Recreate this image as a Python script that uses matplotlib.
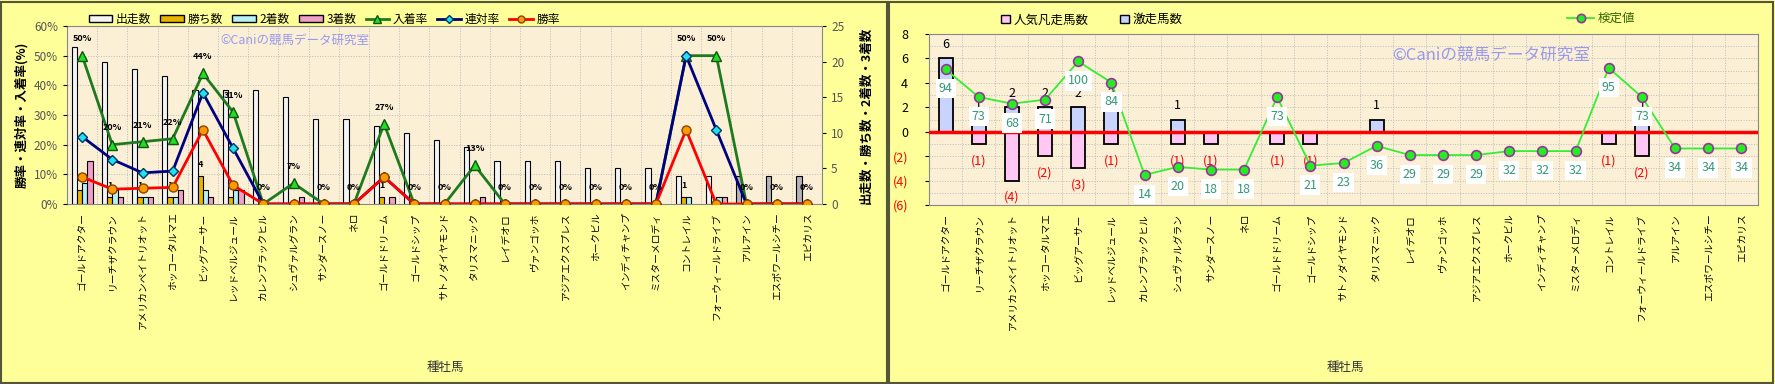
import numpy as np
import matplotlib
matplotlib.use("Agg")
import matplotlib.pyplot as plt
import matplotlib.patches as mpatches
from matplotlib.lines import Line2D

plt.rcParams['font.family'] = ['Noto Sans CJK JP', 'DejaVu Sans']

# ---- data ----
sires = ["ゴールドアクター", "リーチザクラウン", "アメリカンペイトリオット", "ホッコータルマエ",
         "ビッグアーサー", "レッドベルジュール", "カレンブラックヒル", "シュヴァルグラン",
         "サンダースノー", "ネロ", "ゴールドドリーム", "ゴールドシップ", "サトノダイヤモンド",
         "タリスマニック", "レイデオロ", "ヴァンゴッホ", "アジアエクスプレス", "ホークビル",
         "インディチャンプ", "ミスターメロディ", "コントレイル", "フォーウィールドライブ",
         "アルアイン", "エスポワールシチー", "エピカリス"]

starts = [22, 20, 19, 18, 16, 16, 16, 15, 12, 12, 11, 10, 9, 8, 6, 6, 6, 5, 5, 5, 4, 4, 4, 4, 4]
wins = [2, 1, 1, 1, 4, 1, 0, 0, 0, 0, 1, 0, 0, 0, 0, 0, 0, 0, 0, 0, 1, 0, 0, 0, 0]
seconds = [3, 2, 1, 1, 2, 2, 0, 0, 0, 0, 0, 0, 0, 0, 0, 0, 0, 0, 0, 0, 1, 1, 0, 0, 0]
thirds = [6, 1, 1, 2, 1, 2, 0, 1, 0, 0, 1, 0, 0, 1, 0, 0, 0, 0, 0, 0, 0, 1, 0, 0, 0]

place_rate = [50, 20, 21, 22, 44, 31, 0, 7, 0, 0, 27, 0, 0, 13, 0, 0, 0, 0, 0, 0, 50, 50, 0, 0, 0]
rentai_rate = [22.7, 15, 10.5, 11.1, 37.5, 18.8, 0, 0, 0, 0, 9.1, 0, 0, 0, 0, 0, 0, 0, 0, 0, 50, 25, 0, 0, 0]
win_rate = [9.1, 5, 5.3, 5.6, 25, 6.3, 0, 0, 0, 0, 9.1, 0, 0, 0, 0, 0, 0, 0, 0, 0, 25, 0, 0, 0, 0]

gekiso = [6, 1, 2, 2, 2, 2, 0, 1, 0, 0, 0, 0, 0, 1, 0, 0, 0, 0, 0, 0, 0, 1, 0, 0, 0]
bonso = [0, 1, 4, 2, 3, 1, 0, 1, 1, 0, 1, 1, 0, 0, 0, 0, 0, 0, 0, 0, 1, 2, 0, 0, 0]
kentei = [94, 73, 68, 71, 100, 84, 14, 20, 18, 18, 73, 21, 23, 36, 29, 29, 29, 32, 32, 32, 95, 73, 34, 34, 34]

W, H = 1775, 384
fig = plt.figure(figsize=(W / 100, H / 100), dpi=100)
fig.patch.set_facecolor('#FFFF99')

# panel borders
for x0, x1 in [(1, 887), (889, 1773)]:
    fig.patches.append(mpatches.Rectangle((x0 / W, 1 / H), (x1 - x0) / W, (H - 3) / H,
                                          transform=fig.transFigure, fill=False,
                                          edgecolor='#55553a', lw=1.5))

x = np.arange(len(sires))
plot_bg = '#FBF0D6'

# ================= left chart =================
ax1 = fig.add_axes([67 / W, 1 - 204 / H, 755 / W, 178 / H])
ax1.set_facecolor(plot_bg)
ax1.set_xlim(-0.5, len(sires) - 0.5)
ax1.set_ylim(0, 25)
for k in range(1, 6):
    ax1.axhline(k * 25 / 6, color='#bbbbbb', lw=0.7, ls=':', zorder=0)
for k in range(len(sires) - 1):
    ax1.axvline(k + 0.5, color='#bbbbbb', lw=0.7, ls=':', zorder=0)

bw = 0.175
start_colors = ['#F4F4F4'] * 22 + ['#B4B4B4'] * 3
ax1.bar(x - 1.5 * bw, starts, bw, color=start_colors, edgecolor='black', lw=0.8, zorder=2)
for vals, col, off in [(wins, '#E8B400', -0.5), (seconds, '#B8F0F8', 0.5), (thirds, '#F0A0C8', 1.5)]:
    v = np.array(vals)
    m = v > 0
    ax1.bar(x[m] + off * bw, v[m], bw, color=col, edgecolor='black', lw=0.8, zorder=2)
for i, v in enumerate(wins):
    if v > 0:
        ax1.annotate(str(v), (i - 0.5 * bw, v), xytext=(0, 8), textcoords='offset points',
                     ha='center', va='center', fontsize=6.5, fontweight='bold', zorder=3)

ax1.set_xticks(x)
ax1.set_xticklabels(sires, rotation=90, fontsize=7)
ax1.tick_params(axis='x', length=0, pad=6)
for s in ax1.spines.values():
    s.set_color('#888888')

ax1b = ax1.twinx()
# twinx moves the host ticks to the left, so set sides afterwards
ax1.yaxis.tick_right()
ax1.set_yticks(range(0, 26, 5))
ax1.tick_params(axis='y', labelsize=8.5, labelcolor='#555555', length=3)
ax1b.yaxis.tick_left()
ax1b.set_ylim(0, 60)
ax1b.set_yticks(range(0, 61, 10))
ax1b.set_yticklabels([f'{t}%' for t in range(0, 61, 10)])
ax1b.tick_params(axis='y', labelsize=8.5, labelcolor='#555555', length=3)
ax1b.plot(x, place_rate, color='#1E7A1E', lw=2, marker='^', ms=7, mfc='#22DD22', mec='#115511', zorder=3)
ax1b.plot(x, rentai_rate, color='#000080', lw=2, marker='D', ms=5, mfc='#22E0F0', mec='#003366', zorder=4)
ax1b.plot(x, win_rate, color='#FF0000', lw=2, marker='o', ms=6.5, mfc='#FF9900', mec='#884400', zorder=5)
for i, v in enumerate(place_rate):
    ax1b.annotate(f'{v}%', (i, v), xytext=(0, 12), textcoords='offset points',
                  ha='center', va='center', fontsize=6.5, fontweight='bold', zorder=6)
for s in ax1b.spines.values():
    s.set_visible(False)

fig.text(22 / W, 1 - 115 / H, '勝率・連対率・入着率(%)', rotation=90, ha='center', va='center',
         fontsize=9, fontweight='bold')
fig.text(866 / W, 1 - 115 / H, '出走数・勝ち数・2着数・3着数', rotation=90, ha='center', va='center',
         fontsize=9, fontweight='bold')
fig.text(445 / W, 1 - 368 / H, '種牡馬', ha='center', va='center', fontsize=9, color='#333333')
fig.text(295 / W, 1 - 40 / H, '©Caniの競馬データ研究室', ha='center', va='center',
         fontsize=9, color='#9999EE', zorder=10)

h_left = [mpatches.Patch(fc='#F4F4F4', ec='black'),
          mpatches.Patch(fc='#E8B400', ec='black'),
          mpatches.Patch(fc='#B8F0F8', ec='black'),
          mpatches.Patch(fc='#F0A0C8', ec='black'),
          Line2D([], [], color='#1E7A1E', lw=2, marker='^', ms=6, mfc='#22DD22', mec='#115511'),
          Line2D([], [], color='#000080', lw=2, marker='D', ms=4, mfc='#22E0F0', mec='#003366'),
          Line2D([], [], color='#FF0000', lw=2, marker='o', ms=5, mfc='#FF9900', mec='#884400')]
fig.legend(h_left, ['出走数', '勝ち数', '2着数', '3着数', '入着率', '連対率', '勝率'],
           loc='upper left', bbox_to_anchor=(78 / W, 1 - 2 / H), ncol=7, frameon=False,
           fontsize=8.5, handlelength=2.0, handleheight=0.5, columnspacing=0.8, handletextpad=0.3)

# ================= right chart =================
ax2 = fig.add_axes([929 / W, 1 - 205 / H, 829 / W, 171 / H])
ax2.set_facecolor(plot_bg)
ax2.set_xlim(-0.5, len(sires) - 0.5)
ax2.set_ylim(-6, 8)
for k in range(-5, 8):
    if k != 0:
        ax2.axhline(k, color='#bbbbbb', lw=0.7, ls=':', zorder=0)
for k in range(len(sires) - 1):
    ax2.axvline(k + 0.5, color='#bbbbbb', lw=0.7, ls=':', zorder=0)

g = np.array(gekiso)
b = np.array(bonso)
ax2.bar(x[g > 0], g[g > 0], 0.42, color='#C8D4FF', edgecolor='black', lw=1.3, zorder=2)
ax2.bar(x[b > 0], -b[b > 0], 0.42, color='#FFC8F4', edgecolor='black', lw=1.3, zorder=2)
ax2.axhline(0, color='#FF0000', lw=2.5, zorder=3)
for i in range(len(sires)):
    if g[i] > 0:
        ax2.annotate(str(g[i]), (i, g[i]), xytext=(0, 10), textcoords='offset points',
                     ha='center', va='center', fontsize=9, zorder=3)
    if b[i] > 0:
        ax2.annotate(f'({b[i]})', (i, -b[i]), xytext=(0, -12), textcoords='offset points',
                     ha='center', va='center', fontsize=9, color='#FF0000', zorder=3)

ax2.set_yticks(range(-6, 9, 2))
ax2.set_yticklabels(['(6)', '(4)', '(2)', '0', '2', '4', '6', '8'])
for t, v in zip(ax2.get_yticklabels(), range(-6, 9, 2)):
    t.set_color('#FF0000' if v < 0 else 'black')
ax2.tick_params(axis='y', labelsize=9, length=3, pad=12)
ax2.set_xticks(x)
ax2.set_xticklabels(sires, rotation=90, fontsize=7)
ax2.tick_params(axis='x', length=0, pad=6)
for s in ax2.spines.values():
    s.set_color('#888888')

ax2b = ax2.twinx()
ax2b.set_ylim(-8.86, 120.8)
ax2b.axis('off')
ax2b.plot(x, kentei, color='#33EE33', lw=1.3, marker='o', ms=7, mfc='#22EE22', mec='#993399',
          mew=1.2, zorder=4)
for i, v in enumerate(kentei):
    ax2b.annotate(str(v), (i, v), xytext=(0, -14), textcoords='offset points', ha='center',
                  va='center', fontsize=9, color='#339977', zorder=5,
                  bbox=dict(boxstyle='square,pad=0.25', fc='white', ec='none'))

fig.text(1345 / W, 1 - 368 / H, '種牡馬', ha='center', va='center', fontsize=9, color='#333333')
fig.text(1491 / W, 1 - 55 / H, '©Caniの競馬データ研究室', ha='center', va='center',
         fontsize=12, color='#9999EE', zorder=10)

h_r1 = [mpatches.Patch(fc='#FFC8F4', ec='black'), mpatches.Patch(fc='#C8D4FF', ec='black')]
fig.legend(h_r1, ['人気凡走馬数', '激走馬数'], loc='upper left', bbox_to_anchor=(990 / W, 1 - 2 / H),
           ncol=2, frameon=False, fontsize=9, handlelength=0.7, handleheight=0.7,
           columnspacing=2.5, handletextpad=0.3)

# 検定値 legend entry drawn by hand at its spot
ly = 1 - 18 / H
fig.add_artist(Line2D([1567 / W, 1594 / W], [ly, ly], transform=fig.transFigure,
                      color='#33EE33', lw=1.3))
fig.add_artist(Line2D([1580.5 / W], [ly], transform=fig.transFigure, marker='o', ms=6,
                      mfc='#22EE22', mec='#993399', mew=1.2))
fig.text(1598 / W, ly, '検定値', ha='left', va='center', fontsize=9, color='#336600')

fig.savefig('out.png', dpi=100, facecolor=fig.get_facecolor())
